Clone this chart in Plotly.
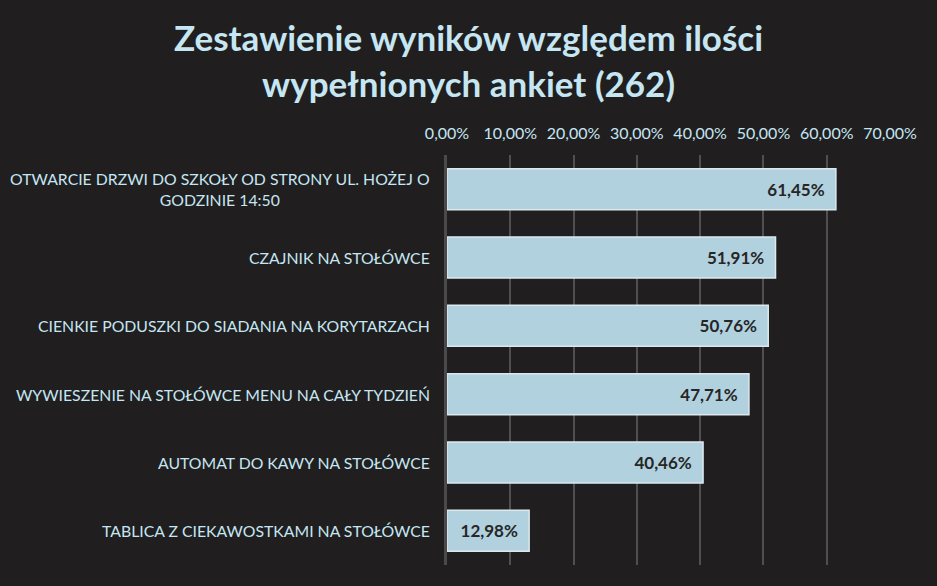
import plotly.graph_objects as go

categories = [
    "OTWARCIE DRZWI DO SZKOŁY OD STRONY UL. HOŻEJ O<br>GODZINIE 14:50",
    "CZAJNIK NA STOŁÓWCE",
    "CIENKIE PODUSZKI DO SIADANIA NA KORYTARZACH",
    "WYWIESZENIE NA STOŁÓWCE MENU NA CAŁY TYDZIEŃ",
    "AUTOMAT DO KAWY NA STOŁÓWCE",
    "TABLICA Z CIEKAWOSTKAMI NA STOŁÓWCE",
]
values = [61.45, 51.91, 50.76, 47.71, 40.46, 12.98]
tick_vals = [0, 10, 20, 30, 40, 50, 60, 70]
tick_text = ["0,00%", "10,00%", "20,00%", "30,00%", "40,00%", "50,00%", "60,00%", "70,00%"]
labels = [f"{v:.2f}%".replace(".", ",") + "&nbsp;&nbsp;" for v in values]

BG = "#201e1f"
LIGHT = "#c5e6f2"
FONT = "Lato"

fig = go.Figure()
fig.add_trace(go.Bar(
    y=categories, x=values, orientation="h",
    marker=dict(color="#b1d1df", line=dict(color="#dde8ee", width=1.5)),
    width=0.6,
    text=labels, textposition="inside", insidetextanchor="end",
    textfont=dict(family=FONT, size=17, color="#262626", weight="bold"),
    cliponaxis=False,
))

for c in categories:
    fig.add_annotation(
        x=0, xref="paper", y=c, yref="y", xanchor="right", xshift=-15,
        text=c, showarrow=False, align="center",
        font=dict(family=FONT, size=15.8, color=LIGHT),
    )

fig.add_annotation(
    x=(468 - 447) / 443, xref="paper", y=(565 - 60) / 410, yref="paper",
    xanchor="center", yanchor="middle", showarrow=False, align="center",
    text="Zestawienie wyników względem ilości<br>wypełnionych ankiet (262)",
    font=dict(family=FONT, size=35, color=LIGHT, weight="bold"),
)

fig.update_layout(
    width=937, height=586,
    paper_bgcolor=BG, plot_bgcolor=BG,
    margin=dict(l=447, r=47, t=155, b=21),
    showlegend=False,
    xaxis=dict(
        side="top", range=[0, 70], tickvals=tick_vals, ticktext=tick_text,
        tickfont=dict(family=FONT, size=16, color=LIGHT),
        ticklabelstandoff=12,
        showgrid=True, gridcolor="rgba(255,255,255,0.22)", gridwidth=1.5,
        zeroline=False, showline=False, ticks="",
    ),
    yaxis=dict(
        autorange="reversed", showticklabels=False,
        showline=True, linecolor="#4a4a4a", linewidth=3,
        showgrid=False, ticks="",
    ),
)

fig.write_html("out.html")
